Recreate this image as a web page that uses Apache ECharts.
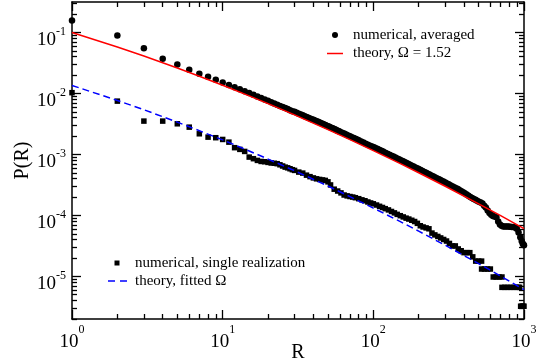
<!DOCTYPE html>
<html><head><meta charset="utf-8">
<script src="https://cdn.jsdelivr.net/npm/echarts@6/dist/echarts.min.js"></script>
<style>html,body{margin:0;padding:0;background:#fff}#c{width:543px;height:364px}</style>
</head><body><div id="c"></div>
<script>
// ---- data ----
// numerical, averaged: R and log10 P(R)
const avgR = [1,2,3,4,5,6,7,8,9,10,11,12,13,14,15,16,17,18,19,20,21,22,23,24,25,26,27,28,29,
  30,31,32,33,34,35,36,37,38,39,40,41,42,43,44,45,46,47,48,49,50,51,52,53,54,55,56,57,58,59,60,62,64,66,68,70,72,74,76,78,80,
  83,86,89,92,95,98,101,104,107,110,113,116,120,124,128,132,136,140,144,148,152,156,160,
  165,170,175,180,185,190,195,200,206,212,218,224,230,236,242,249,256,263,270,277,284,292,300,308,316,324,
  334,344,354,364,374,384,394,404,416,428,440,452,464,476,488,502,516,530,544,558,574,590,606,622,638,
  656,674,692,710,728,748,768,788,808,830,852,874,896,920,945,965,980,992,1000];
const avgLog10P = [-0.803,-1.049,-1.257,-1.431,-1.525,-1.611,-1.677,-1.727,-1.776,-1.820,-1.861,-1.898,-1.932,-1.964,-1.994,
  -2.022,-2.049,-2.074,-2.098,-2.121,-2.143,-2.164,-2.184,-2.204,-2.222,-2.240,-2.257,-2.274,-2.290,
  -2.301,-2.316,-2.331,-2.345,-2.359,-2.373,-2.386,-2.399,-2.412,-2.424,-2.433,-2.444,-2.454,-2.465,-2.476,-2.487,-2.498,-2.508,
  -2.518,-2.528,-2.538,-2.548,-2.557,-2.566,-2.575,-2.584,-2.593,-2.602,-2.610,-2.619,
  -2.627,-2.643,-2.658,-2.673,-2.688,-2.703,-2.717,-2.730,-2.744,-2.757,-2.769,
  -2.788,-2.806,-2.823,-2.840,-2.856,-2.872,-2.884,-2.898,-2.912,-2.926,-2.940,-2.953,-2.971,-2.988,-3.004,-3.020,
  -3.036,-3.051,-3.066,-3.080,-3.094,-3.108,-3.121,
  -3.138,-3.153,-3.169,-3.184,-3.199,-3.213,-3.227,-3.240,-3.256,-3.272,-3.287,-3.302,-3.316,-3.330,-3.344,-3.359,
  -3.374,-3.389,-3.403,-3.417,-3.431,-3.446,-3.461,-3.476,-3.490,-3.504,
  -3.521,-3.538,-3.554,-3.569,-3.586,-3.604,-3.622,-3.638,-3.658,-3.678,-3.698,-3.716,-3.730,-3.743,-3.760,
  -3.775,-3.790,-3.805,-3.840,-3.870,-3.920,-3.960,-3.990,-4.010,-4.020,
  -4.030,-4.100,-4.150,-4.170,-4.180,-4.180,-4.180,-4.180,-4.185,-4.190,-4.190,-4.200,-4.220,-4.280,-4.360,-4.420,-4.460,-4.480,-4.490];

// numerical, single realization: R and P(R)
const singleR = [1,2,3,4,5,6,7,8,9,10,11,12,13,14,15,16,17,18,19,20,21,22,23,24,25,26,27,28,29,30,
  32,34,36,38,40,42,44,46,48,50,52,55,58,61,64,67,70,73,76,80,84,88,92,96,100,
  105,110,115,120,126,132,138,144,151,158,165,172,180,188,196,205,214,224,234,245,256,268,280,293,306,
  320,335,350,366,383,400,418,437,457,478,500,523,523,547,572,598,625,653,683,714,714,746,780,815,852,890,920,935,950,970,985,1000];
const singleP = [0.0103,0.00748,0.00352,0.00352,0.00318,0.00280,0.00218,0.00192,0.00188,0.00176,0.00159,0.00129,0.00121,0.00112,
  0.000904,0.000851,0.000798,0.000767,0.000759,0.000740,0.000724,0.000716,0.000705,0.000676,0.000646,0.000619,0.000603,0.000582,0.000562,0.000547,
  0.000513,0.000494,0.000457,0.000432,0.000412,0.000398,0.000389,0.000382,0.000375,0.000355,0.000316,0.000269,0.000251,0.000234,0.000216,
  0.000209,0.000204,0.000200,0.000195,0.000188,0.000180,0.000174,0.000166,0.000160,0.000155,
  0.000148,0.000141,0.000135,0.000129,0.000123,0.000116,0.000110,0.000104,9.89e-5,9.44e-5,9.02e-5,8.71e-5,8.32e-5,7.94e-5,
  7.41e-5,6.76e-5,6.46e-5,6.24e-5,6.03e-5,5.13e-5,4.79e-5,4.52e-5,4.27e-5,4.03e-5,3.80e-5,
  3.47e-5,3.16e-5,3.16e-5,2.82e-5,2.63e-5,2.45e-5,2.45e-5,2.45e-5,2.09e-5,1.78e-5,1.78e-5,1.78e-5,1.32e-5,1.32e-5,1.32e-5,1.32e-5,
  9.77e-6,9.77e-6,9.77e-6,9.77e-6,6.61e-6,6.61e-6,6.61e-6,6.61e-6,6.61e-6,6.61e-6,6.61e-6,6.61e-6,3.24e-6,3.24e-6,3.24e-6,3.24e-6];

// theory curves
const theoryR = [1,2,3,5,7,10,15,20,30,50,70,100,150,200,300,500,700,1000];
const theoryAvgP = [0.100,0.0577,0.0410,0.0261,0.01915,0.01364,0.00914,0.00682,0.00446,0.00255,0.00175,0.001156,
  0.000712,0.000501,0.000301,0.000155,9.90e-5,6.09e-5];
const theoryFitP = [0.01352,0.00768,0.00540,0.00339,0.00245,0.00173,0.00114,0.000839,0.000540,0.000303,0.000203,0.000132,
  7.97e-5,5.51e-5,3.24e-5,1.62e-5,1.01e-5,6.07e-6];

// axes
const xMin = 1, xMax = 1000, yMin = 2e-6, yMax = 0.316;
const xMajorTicks = [1, 10, 100, 1000];
const yMajorTicks = [1e-5, 1e-4, 1e-3, 1e-2, 1e-1];
const minorMult = [2,3,4,5,6,7,8,9];
const xDecades = [1, 10, 100];
const yDecades = [1e-6, 1e-5, 1e-4, 1e-3, 1e-2, 1e-1];
const xMinorTicks = [], yMinorTicks = [];
xDecades.forEach(d => minorMult.forEach(m => { const v = m * d; if (v >= xMin && v <= xMax) xMinorTicks.push(v); }));
yDecades.forEach(d => minorMult.forEach(m => { const v = m * d; if (v >= yMin && v <= yMax) yMinorTicks.push(v); }));

const legendTexts = ['numerical, averaged', 'theory, \u03A9 = 1.52', 'numerical, single realization', 'theory, fitted \u03A9'];

// ---- chart ----
const FONT = 'Liberation Serif';
const pairs = (xs, ys) => xs.map((x, i) => [x, ys[i]]);
const avgData = avgR.map((r, i) => [r, Math.pow(10, avgLog10P[i])]);
const expFmt = v => '{b|10}{s|' + Math.round(Math.log10(v)) + '}';

function axis(kind, pos, major, withLine, withLabel) {
  const isX = kind === 'x';
  const a = {
    type: 'log', logBase: 10,
    min: isX ? xMin : yMin, max: isX ? xMax : yMax,
    position: pos, offset: 0,
    axisLine: { show: withLine, onZero: false, lineStyle: { color: '#000', width: 1.5 } },
    axisTick: { show: true, inside: true, length: major ? 9 : 5, lineStyle: { color: '#000', width: 1.3 },
      customValues: major ? (isX ? xMajorTicks : yMajorTicks) : (isX ? xMinorTicks : yMinorTicks) },
    minorTick: { show: false },
    splitLine: { show: false },
    axisLabel: { show: false }
  };
  if (withLabel) {
    a.axisLabel = isX ? {
      show: true, customValues: xMajorTicks, formatter: expFmt, margin: 5, color: '#000',
      rich: { b: { fontFamily: FONT, fontSize: 19, lineHeight: 28, verticalAlign: 'bottom', color: '#000' },
              s: { fontFamily: FONT, fontSize: 12, lineHeight: 8, verticalAlign: 'top', color: '#000' } }
    } : {
      show: true, customValues: yMajorTicks, formatter: expFmt, margin: 6, color: '#000', padding: [10, 0, 0, 0],
      rich: { b: { fontFamily: FONT, fontSize: 19, lineHeight: 24, verticalAlign: 'bottom', color: '#000' },
              s: { fontFamily: FONT, fontSize: 12, lineHeight: 10, verticalAlign: 'top', color: '#000' } }
    };
    a.name = isX ? 'R' : 'P(R)';
    a.nameLocation = 'middle';
    a.nameGap = isX ? 24 : 39;
    a.nameMoveOverlap = false;
    a.nameTextStyle = { fontFamily: FONT, fontSize: 20, color: '#000' };
  }
  return a;
}

const chart = echarts.init(document.getElementById('c'), null, { renderer: 'canvas' });
chart.setOption({
  animation: false,
  backgroundColor: '#fff',
  grid: { left: 72, right: 19, top: 2, bottom: 45, containLabel: false, outerBoundsMode: 'none' },
  xAxis: [axis('x', 'bottom', true, true, true), axis('x', 'bottom', false, false, false),
          axis('x', 'top', true, true, false), axis('x', 'top', false, false, false)],
  yAxis: [axis('y', 'left', true, true, true), axis('y', 'left', false, false, false),
          axis('y', 'right', true, true, false), axis('y', 'right', false, false, false)],
  series: [
    { name: legendTexts[2], type: 'scatter', symbol: 'rect', symbolSize: 5.5, data: pairs(singleR, singleP),
      itemStyle: { color: '#000', opacity: 1 }, emphasis: { disabled: true }, z: 2 },
    { name: legendTexts[0], type: 'scatter', symbol: 'circle', symbolSize: 6.5, data: avgData,
      itemStyle: { color: '#000', opacity: 1 }, emphasis: { disabled: true }, z: 3 },
    { name: legendTexts[1], type: 'line', data: pairs(theoryR, theoryAvgP), showSymbol: false, symbol: 'none',
      lineStyle: { color: '#ff0000', width: 1.5 }, z: 4 },
    { name: legendTexts[3], type: 'line', data: pairs(theoryR, theoryFitP), showSymbol: false, symbol: 'none',
      lineStyle: { color: '#0000ff', width: 1.5, type: [7, 4] }, z: 4 }
  ],
  graphic: [
    { type: 'circle', shape: { cx: 335, cy: 35, r: 3 }, style: { fill: '#000' } },
    { type: 'text', style: { text: legendTexts[0], x: 353, y: 35, verticalAlign: 'middle', font: '15px "Liberation Serif"', fill: '#000' } },
    { type: 'line', shape: { x1: 327, y1: 53.5, x2: 343, y2: 53.5 }, style: { stroke: '#ff0000', lineWidth: 1.5 } },
    { type: 'text', style: { text: legendTexts[1], x: 353, y: 53.5, verticalAlign: 'middle', font: '15px "Liberation Serif"', fill: '#000' } },
    { type: 'rect', shape: { x: 114.5, y: 260.5, width: 5, height: 5 }, style: { fill: '#000' } },
    { type: 'text', style: { text: legendTexts[2], x: 135, y: 263, verticalAlign: 'middle', font: '15px "Liberation Serif"', fill: '#000' } },
    { type: 'line', shape: { x1: 108, y1: 281, x2: 127, y2: 281 }, style: { stroke: '#0000ff', lineWidth: 1.5, lineDash: [7, 5] } },
    { type: 'text', style: { text: legendTexts[3], x: 135, y: 281, verticalAlign: 'middle', font: '15px "Liberation Serif"', fill: '#000' } }
  ]
});
</script>
</body></html>
